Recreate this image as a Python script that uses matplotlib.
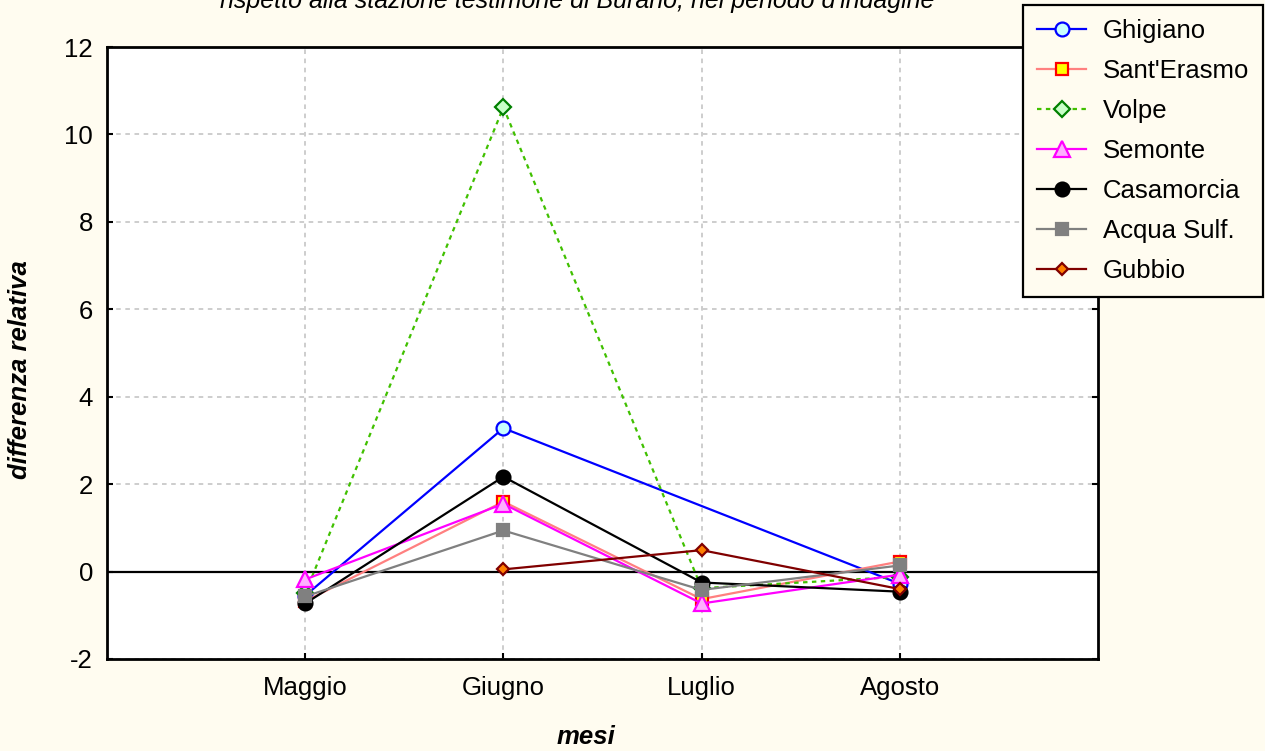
import numpy as np
import matplotlib.pyplot as plt

# mesi e differenze relative rispetto a Burano
mesi = ["Maggio", "Giugno", "Luglio", "Agosto"]
ghigiano = [-0.55, 3.28, np.nan, -0.28]
sant_erasmo = [-0.68, 1.6, -0.63, 0.23]
volpe = [-0.5, 10.62, -0.38, -0.12]
semonte = [-0.18, 1.55, -0.73, -0.07]
casamorcia = [-0.73, 2.17, -0.25, -0.46]
acqua_sulf = [-0.57, 0.94, -0.42, 0.14]
gubbio = [np.nan, 0.05, 0.49, -0.4]

bg = "#fffcf0"
plt.rcParams['font.family'] = ['Liberation Sans', 'DejaVu Sans']
plt.rcParams['axes.unicode_minus'] = False

fig = plt.figure(figsize=(12.65, 7.51), dpi=100, facecolor=bg)
ax = fig.add_axes([107 / 1265, 92 / 751, 991 / 1265, 612 / 751])
ax.set_facecolor("white")

x = np.arange(1, len(mesi) + 1)

series = [
    ("Ghigiano", ghigiano, dict(color="#0000ff", ls="-", marker="o", mfc="#c8ffff", mec="#0000ff", ms=10)),
    ("Sant'Erasmo", sant_erasmo, dict(color="#ff8080", ls="-", marker="s", mfc="#ffff00", mec="#ff0000", ms=9)),
    ("Volpe", volpe, dict(color="#40c000", ls=(0, (2, 2)), marker="D", mfc="#c8ffc8", mec="#008000", ms=8)),
    ("Semonte", semonte, dict(color="#ff00ff", ls="-", marker="^", mfc="#ffb0ff", mec="#ff00ff", ms=11)),
    ("Casamorcia", casamorcia, dict(color="black", ls="-", marker="o", mfc="black", mec="black", ms=10)),
    ("Acqua Sulf.", acqua_sulf, dict(color="#808080", ls="-", marker="s", mfc="#808080", mec="#808080", ms=9)),
    ("Gubbio", gubbio, dict(color="#800000", ls="-", marker="D", mfc="#ff8000", mec="#800000", ms=6)),
]

for name, vals, st in series:
    v = np.array(vals, dtype=float)
    ok = ~np.isnan(v)
    ax.plot(x[ok], v[ok], label=name, lw=1.6, mew=1.6, zorder=3, **st)

ax.axhline(0, color="black", lw=1.6, zorder=2)

ax.set_xlim(0, 5)
ax.set_ylim(-2, 12)
ax.set_xticks(x)
ax.set_xticklabels(mesi)
ax.set_yticks(np.arange(-2, 13, 2))
ax.grid(True, color="#c0c0c0", ls=(0, (3, 3)), lw=1.1)
ax.tick_params(direction="in", length=4, width=1.5, labelsize=18.5, right=True, pad=10)
ax.tick_params(axis="x", pad=12)
for s in ax.spines.values():
    s.set_linewidth(2)

fig.text(20 / 1265, 1 - 370 / 751, "differenza relativa", rotation=90, ha="center", va="center",
         fontsize=18.5, fontweight="bold", fontstyle="italic")
fig.text(586 / 1265, 1 - 737 / 751, "mesi", ha="center", va="center",
         fontsize=18.5, fontweight="bold", fontstyle="italic")
# titolo tagliato in alto come nell'originale
fig.text(577 / 1265, 1 - 8 / 751, "rispetto alla stazione testimone di Burano, nel periodo d'indagine",
         ha="center", va="baseline", fontsize=18, fontstyle="italic")

leg = fig.legend(loc="upper left", bbox_to_anchor=(1023 / 1265, 1 - 5 / 751), fontsize=18.5,
                 frameon=True, fancybox=False, facecolor=bg, edgecolor="black", framealpha=1,
                 handlelength=1.9, handletextpad=0.65, labelspacing=0.62, borderpad=0.55,
                 borderaxespad=0)
leg.get_frame().set_linewidth(1.6)

fig.savefig("out.png", dpi=100, facecolor=bg)
